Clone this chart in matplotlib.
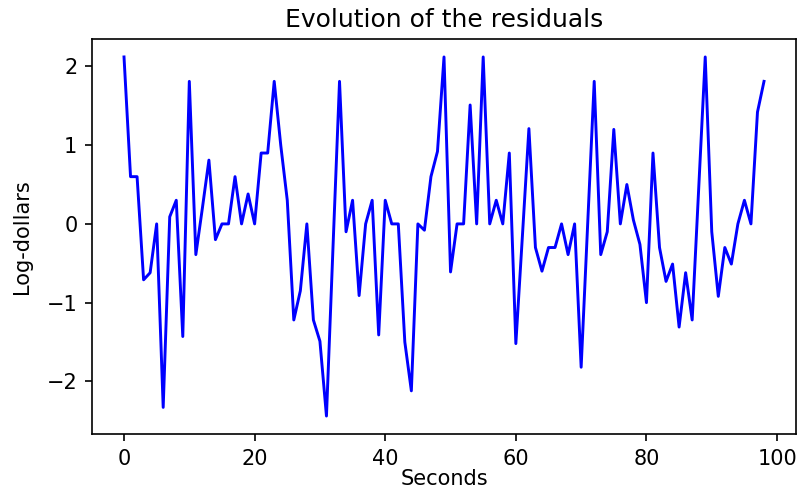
import matplotlib
matplotlib.use("Agg")
import matplotlib.pyplot as plt

# residual value at each second (0..98)
seconds = list(range(99))
residuals = [
    2.12, 0.60, 0.60, -0.71, -0.62, 0.00, -2.33, 0.09, 0.30, -1.43,
    1.81, -0.39, 0.20, 0.81, -0.20, 0.00, 0.00, 0.60, 0.00, 0.38,
    0.00, 0.90, 0.90, 1.81, 1.00, 0.30, -1.22, -0.85, 0.00, -1.22,
    -1.49, -2.44, -0.30, 1.81, -0.10, 0.30, -0.91, 0.00, 0.30, -1.41,
    0.30, 0.00, 0.00, -1.50, -2.12, 0.00, -0.08, 0.60, 0.92, 2.12,
    -0.61, 0.00, 0.00, 1.51, 0.00, 2.12, 0.00, 0.30, 0.00, 0.90,
    -1.52, -0.16, 1.21, -0.30, -0.60, -0.30, -0.30, 0.00, -0.39, 0.00,
    -1.82, 0.00, 1.81, -0.39, -0.10, 1.20, 0.00, 0.50, 0.05, -0.26,
    -1.00, 0.90, -0.30, -0.73, -0.51, -1.31, -0.62, -1.22, 0.45, 2.12,
    -0.10, -0.92, -0.30, -0.51, 0.00, 0.30, 0.00, 1.42, 1.81,
]

fig = plt.figure(figsize=(7.98 / 1.5, 4.9 / 1.5), dpi=150)
ax = fig.add_axes([0.1153, 0.1143, 0.8822, 0.8061])
ax.plot(seconds, residuals, color="b", linewidth=1.4)
ax.set_title("Evolution of the residuals")
ax.set_xlabel("Seconds", labelpad=0)
ax.set_ylabel("Log-dollars", labelpad=7)

fig.savefig("out.png", dpi=150)
